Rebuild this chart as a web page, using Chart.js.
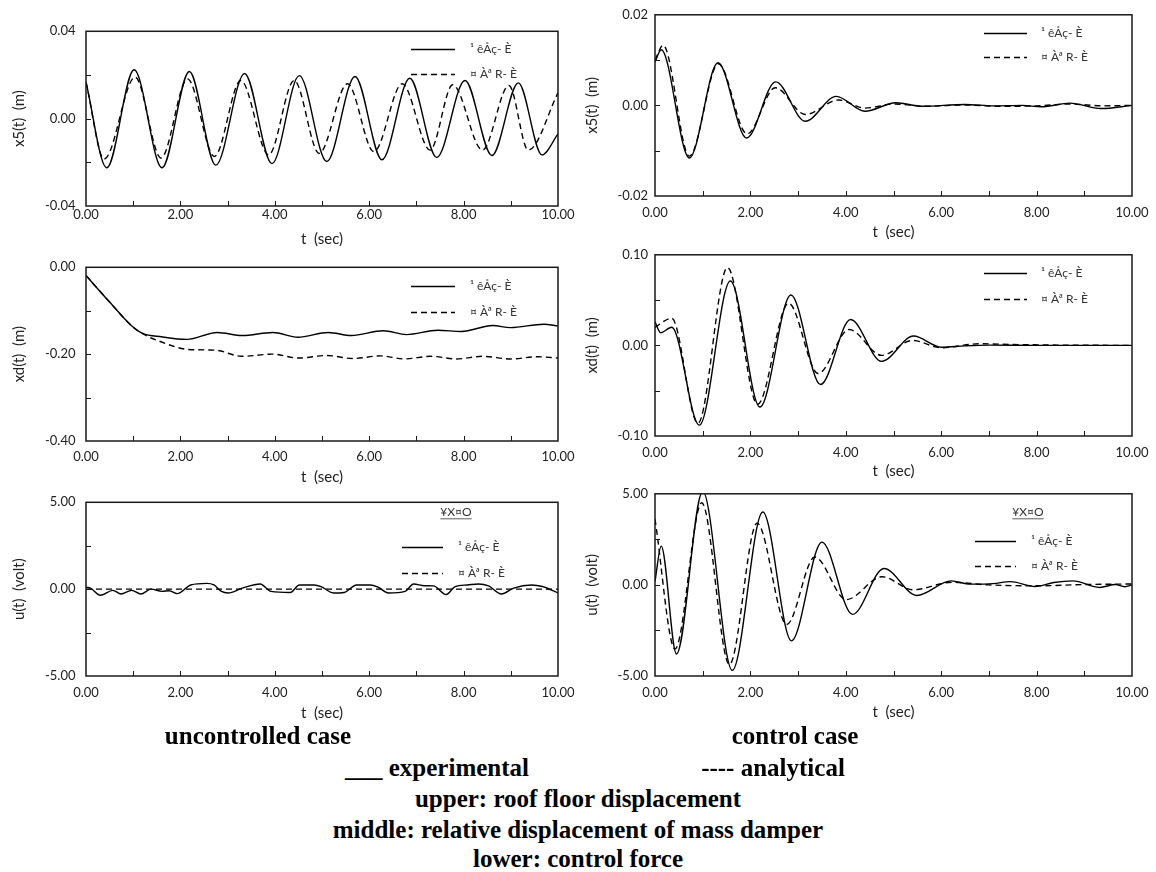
<!DOCTYPE html>
<html><head><meta charset="utf-8">
<script src="https://cdn.jsdelivr.net/npm/chart.js@4.4.1/dist/chart.umd.min.js"></script>
<style>
html,body{margin:0;padding:0;background:#fff;}
body{width:1156px;height:872px;position:relative;overflow:hidden;}
canvas{position:absolute;}
.cap{position:absolute;font-family:"Liberation Serif","Times New Roman",serif;font-weight:bold;font-size:25px;line-height:31px;white-space:pre;color:#000;transform:translateX(-50%);}
</style></head><body>
<canvas id="c0"></canvas><canvas id="c1"></canvas><canvas id="c2"></canvas>
<canvas id="c3"></canvas><canvas id="c4"></canvas><canvas id="c5"></canvas>
<div class="cap" id="cap1a"></div><div class="cap" id="cap1b"></div>
<div class="cap" id="cap2a"></div><div class="cap" id="cap2b"></div>
<div class="cap" id="cap3"></div><div class="cap" id="cap4"></div><div class="cap" id="cap5"></div>
<script>
// ---------- text ----------
const seriesNames = ['¹ êÅç- È', '¤ Àª R- È'];
const legendTitle = '¥X¤O';
const xTitle = 't  (sec)';
const yTitles = ['x5(t)  (m)', 'xd(t)  (m)', 'u(t)  (volt)'];
const captions = ['uncontrolled case', 'control case', '___ experimental', '---- analytical',
  'upper: roof floor displacement', 'middle: relative displacement of mass damper', 'lower: control force'];

// ---------- axis ranges ----------
const xRange = [0, 10];
const yRangeX5Unc = [-0.04, 0.04];
const yRangeX5Ctl = [-0.02, 0.02];
const yRangeXdUnc = [-0.40, 0.00];
const yRangeXdCtl = [-0.10, 0.10];
const yRangeU = [-5, 5];

// ---------- data: uncontrolled, roof floor x5 ----------
const tX5UncExp = [0, 0.44, 1.02, 1.61, 2.19, 2.75, 3.36, 3.94, 4.52, 5.10, 5.70, 6.27, 6.86, 7.43, 8.03, 8.60, 9.16, 9.66, 10];
const vX5UncExp = [0.0167, -0.0225, 0.0224, -0.0225, 0.0216, -0.0213, 0.0207, -0.0206, 0.0197, -0.0196, 0.0193, -0.0188, 0.0185, -0.0178, 0.0175, -0.0169, 0.0164, -0.0166, -0.007];
const tX5UncAna = [0, 0.385, 1.04, 1.59, 2.15, 2.72, 3.28, 3.87, 4.41, 4.94, 5.54, 6.10, 6.70, 7.29, 7.77, 8.40, 8.96, 9.37, 10];
const vX5UncAna = [0.0167, -0.0185, 0.0190, -0.0180, 0.0182, -0.0173, 0.0175, -0.0166, 0.0175, -0.0159, 0.0160, -0.0151, 0.0160, -0.0144, 0.0155, -0.0144, 0.0152, -0.0144, 0.0118];

// ---------- data: controlled, roof floor x5 ----------
const tX5CtlExp = [0, 0.13, 0.72, 1.32, 1.92, 2.53, 3.15, 3.80, 4.40, 5.05, 5.60, 6.50, 7.10, 7.70, 8.10, 8.70, 9.35, 10];
const vX5CtlExp = [0.0096, 0.0123, -0.0116, 0.0094, -0.0072, 0.0052, -0.0035, 0.0020, -0.0013, 0.0006, -0.0002, 0.0002, -0.0001, 0.0000, -0.0003, 0.0005, -0.0007, 0.0000];
const tX5CtlAna = [0, 0.17, 0.72, 1.33, 1.93, 2.52, 3.15, 3.85, 4.40, 5.00, 5.70, 6.50, 7.20, 8.00, 8.70, 9.40, 10];
const vX5CtlAna = [0.0100, 0.0133, -0.0112, 0.0092, -0.0063, 0.0039, -0.0020, 0.0012, -0.0006, 0.0003, -0.0002, 0.0001, -0.0002, -0.0001, 0.0003, -0.0001, 0.0000];

// ---------- data: uncontrolled, damper xd ----------
const tXdUncExp = [0, 0.5, 0.97, 1.2, 1.6, 2.14, 2.78, 3.31, 3.96, 4.49, 5.13, 5.62, 6.30, 6.79, 7.45, 7.95, 8.62, 8.99, 9.70, 10];
const vXdUncExp = [-0.019, -0.080, -0.135, -0.152, -0.160, -0.166, -0.150, -0.157, -0.150, -0.161, -0.150, -0.157, -0.146, -0.155, -0.145, -0.148, -0.134, -0.139, -0.131, -0.135];
const tXdUncAna = [0, 0.5, 0.97, 1.2, 1.6, 2.15, 2.75, 3.30, 3.95, 4.50, 5.10, 5.65, 6.25, 6.75, 7.30, 7.85, 8.40, 9.00, 9.55, 10];
const vXdUncAna = [-0.019, -0.080, -0.135, -0.153, -0.172, -0.189, -0.191, -0.205, -0.200, -0.209, -0.203, -0.210, -0.204, -0.211, -0.205, -0.211, -0.205, -0.211, -0.206, -0.209];

// ---------- data: controlled, damper xd ----------
const tXdCtlExp = [0, 0.12, 0.35, 0.93, 1.58, 2.20, 2.85, 3.47, 4.10, 4.75, 5.42, 6.00, 6.50, 7.00, 8.00, 10];
const vXdCtlExp = [0.026, 0.014, 0.020, -0.088, 0.071, -0.068, 0.0557, -0.0432, 0.0286, -0.0176, 0.0103, -0.0020, -0.0005, 0.0003, 0.0000, 0.0000];
const tXdCtlAna = [0, 0.35, 0.90, 1.52, 2.15, 2.80, 3.42, 4.07, 4.75, 5.40, 6.00, 6.80, 7.50, 8.50, 10];
const vXdCtlAna = [0.020, 0.030, -0.086, 0.086, -0.065, 0.0465, -0.031, 0.0176, -0.011, 0.0055, -0.0026, 0.0018, 0.0010, 0.0003, 0.0000];

// ---------- data: uncontrolled, control force u ----------
const tUUncExp = [0, 0.1, 0.30, 0.57, 0.74, 0.97, 1.16, 1.38, 1.61, 1.76, 1.93, 2.22, 2.56, 2.71, 2.87, 3.01, 3.31, 3.69, 3.92, 4.33, 4.52, 4.83, 4.98, 5.24, 5.47, 5.73, 6.03, 6.19, 6.41, 6.76, 6.94, 7.17, 7.36, 7.63, 7.82, 8.08, 8.31, 8.53, 8.80, 9.06, 9.44, 9.67, 10];
const vUUncExp = [0.11, 0.05, -0.35, -0.07, -0.28, -0.07, -0.28, 0.00, -0.13, -0.09, -0.26, 0.24, 0.33, 0.24, -0.13, -0.22, 0.06, 0.30, -0.13, -0.19, 0.24, 0.24, 0.15, -0.22, -0.19, 0.24, 0.24, 0.11, -0.22, -0.13, 0.30, 0.20, 0.19, -0.31, 0.15, 0.24, 0.30, 0.19, -0.28, 0.06, 0.24, 0.15, -0.22];
const tUUncAna = [0, 5, 10];
const vUUncAna = [0, 0, 0];

// ---------- data: controlled, control force u ----------
const tUCtlExp = [0, 0.13, 0.45, 1.00, 1.62, 2.26, 2.86, 3.50, 4.14, 4.80, 5.49, 6.21, 6.61, 7.09, 7.45, 7.97, 8.36, 8.76, 9.32, 9.65, 9.85, 10];
const vUCtlExp = [0.2, 2.13, -3.79, 5.14, -4.69, 4.00, -3.07, 2.35, -1.62, 0.90, -0.58, 0.22, 0.04, 0.07, 0.18, -0.09, 0.13, 0.22, -0.14, 0.02, -0.10, 0.00];
const tUCtlAna = [0, 0.42, 0.98, 1.56, 2.14, 2.76, 3.35, 4.01, 4.76, 5.41, 6.21, 7.00, 8.00, 9.00, 10];
const vUCtlAna = [3.61, -3.52, 4.51, -4.37, 3.39, -2.17, 1.53, -0.81, 0.45, -0.27, 0.14, 0.00, -0.05, 0.02, 0.05];

// ---------- layout ----------
const PADL = 80, PADT = 12, PADR = 30, XAXH = 48;
const panels = [
  {id:'c0', L:86,  T:25,  R:558,  B:206, yr:yRangeX5Unc, yt:yTitles[0], s:[[tX5UncExp,vX5UncExp],[tX5UncAna,vX5UncAna]], ytp:4, ylp:10.5, xlp:1, xtp:6,
   lg:{x1:147,x2:103,tx:88,dy:[18,43]}},
  {id:'c1', L:655, T:12,  R:1132, B:196, yr:yRangeX5Ctl, yt:yTitles[0], s:[[tX5CtlExp,vX5CtlExp],[tX5CtlAna,vX5CtlAna]], ytp:8, ylp:7, xlp:9, xtp:3,
   lg:{x1:148,x2:105,tx:91,dy:[18,42]}},
  {id:'c2', L:86,  T:261, R:558,  B:441, yr:yRangeXdUnc, yt:yTitles[1], s:[[tXdUncExp,vXdUncExp],[tXdUncAna,vXdUncAna]], ytp:4, ylp:10.5, xlp:8, xtp:3,
   lg:{x1:147,x2:103,tx:88,dy:[18.5,45]}},
  {id:'c3', L:655, T:252, R:1132, B:436, yr:yRangeXdCtl, yt:yTitles[1], s:[[tXdCtlExp,vXdCtlExp],[tXdCtlAna,vXdCtlAna]], ytp:8, ylp:7, xlp:9, xtp:3.5,
   lg:{x1:148,x2:105,tx:91,dy:[18,44.5]}},
  {id:'c4', L:86,  T:496, R:558,  B:676, yr:yRangeU, yt:yTitles[2], s:[[tUUncExp,vUUncExp],[tUUncAna,vUUncAna]], ytp:4, ylp:10.5, xlp:9, xtp:2,
   lg:{x1:156,x2:115,tx:100,dy:[45,71],title:legendTitle,tcx:102,tcy:9.5}},
  {id:'c5', L:655, T:491, R:1132, B:676, yr:yRangeU, yt:yTitles[2], s:[[tUCtlExp,vUCtlExp],[tUCtlAna,vUCtlAna]], ytp:8, ylp:7, xlp:9, xtp:3,
   lg:{x1:157,x2:116,tx:101,dy:[47.5,72],title:legendTitle,tcx:104,tcy:18}}
];

const FONT = 'Lato, "Open Sans", sans-serif';

const decor = {
  id: 'decor',
  afterDatasetsDraw(chart, args, o) {
    const ctx = chart.ctx, a = chart.chartArea, xs = chart.scales.x, ys = chart.scales.y;
    ctx.save();
    ctx.setLineDash([]);
    ctx.strokeStyle = '#1a1a1a';
    ctx.lineWidth = 1.5;
    ctx.strokeRect(a.left, a.top, a.right - a.left, a.bottom - a.top);
    ctx.beginPath();
    for (let v = xs.min + 1; v < xs.max - 0.5; v += 1) {
      const p = Math.round(xs.getPixelForValue(v)) + 0.5;
      ctx.moveTo(p, a.bottom); ctx.lineTo(p, a.bottom - 5);
    }
    const r = ys.max - ys.min;
    for (let k = 1; k < 4; k++) {
      const p = Math.round(ys.getPixelForValue(ys.min + r * k / 4)) + 0.5;
      ctx.moveTo(a.left, p); ctx.lineTo(a.left + 5, p);
    }
    ctx.lineWidth = 1;
    ctx.stroke();
    const L = o.lg;
    ctx.font = '12px ' + FONT;
    ctx.fillStyle = '#333';
    ctx.textBaseline = 'middle';
    if (L.title) {
      ctx.textAlign = 'center';
      const cx = a.right - L.tcx, cy = a.top + L.tcy;
      ctx.fillText(L.title, cx, cy);
      const w = ctx.measureText(L.title).width;
      ctx.beginPath(); ctx.lineWidth = 0.8; ctx.strokeStyle = '#333';
      ctx.moveTo(cx - w / 2, cy + 7); ctx.lineTo(cx + w / 2, cy + 7); ctx.stroke();
    }
    ctx.textAlign = 'left';
    chart.data.datasets.forEach((ds, i) => {
      const y = Math.round(a.top + L.dy[i]) + 0.5;
      ctx.beginPath();
      ctx.setLineDash(ds.borderDash || []);
      ctx.lineWidth = 1.4; ctx.strokeStyle = '#000';
      ctx.moveTo(a.right - L.x1, y); ctx.lineTo(a.right - L.x2, y); ctx.stroke();
      ctx.setLineDash([]);
      ctx.fillText(ds.label, a.right - L.tx, y);
    });
    ctx.restore();
  }
};

function fmt(v) { return (Math.abs(v) < 1e-9 ? 0 : v).toFixed(2); }

panels.forEach(p => {
  const cv = document.getElementById(p.id);
  const w = PADL + (p.R - p.L) + PADR, h = PADT + (p.B - p.T) + XAXH;
  cv.width = w; cv.height = h;
  cv.style.width = w + 'px'; cv.style.height = h + 'px';
  cv.style.left = (p.L - PADL) + 'px'; cv.style.top = (p.T - PADT) + 'px';
  const datasets = p.s.map((sv, i) => ({
    label: seriesNames[i],
    data: sv[0].map((t, j) => ({x: t, y: sv[1][j]})),
    borderColor: '#000', borderWidth: 1.4,
    borderDash: i === 1 ? [6, 4] : [],
    pointRadius: 0, fill: false,
    cubicInterpolationMode: 'monotone'
  }));
  const half = (p.yr[1] - p.yr[0]) / 2;
  new Chart(cv, {
    type: 'line',
    data: {datasets},
    plugins: [decor],
    options: {
      responsive: false, animation: false, devicePixelRatio: 1,
      layout: {padding: {left: 0, top: PADT, right: PADR, bottom: 0}},
      plugins: {legend: {display: false}, tooltip: {enabled: false}, decor: {lg: p.lg}},
      scales: {
        x: {type: 'linear', min: xRange[0], max: xRange[1],
            grid: {display: false, drawTicks: false}, border: {display: false},
            ticks: {stepSize: 2, padding: p.xlp, color: '#222', font: {family: FONT, size: 13}, callback: fmt, maxRotation: 0, autoSkip: false},
            title: {display: true, text: xTitle, color: '#222', font: {family: FONT, size: 15}, padding: {top: 0, bottom: p.xtp}},
            afterFit: s => { s.height = XAXH; }},
        y: {type: 'linear', min: p.yr[0], max: p.yr[1],
            grid: {display: false, drawTicks: false}, border: {display: false},
            ticks: {stepSize: half, padding: p.ylp, color: '#222', font: {family: FONT, size: 13}, callback: fmt, autoSkip: false},
            title: {display: true, text: p.yt, color: '#222', font: {family: FONT, size: 15}, padding: {top: p.ytp, bottom: 0}},
            afterFit: s => { s.width = PADL; }}
      }
    }
  });
});

// captions
const capPos = [[258, 735], [795, 735], [437, 767], [773, 767], [578, 798], [578, 829], [578, 858]];
['cap1a','cap1b','cap2a','cap2b','cap3','cap4','cap5'].forEach((id, i) => {
  const el = document.getElementById(id);
  el.textContent = captions[i];
  el.style.left = capPos[i][0] + 'px';
  el.style.top = (capPos[i][1] - 15.5) + 'px';
});
</script>
</body></html>
